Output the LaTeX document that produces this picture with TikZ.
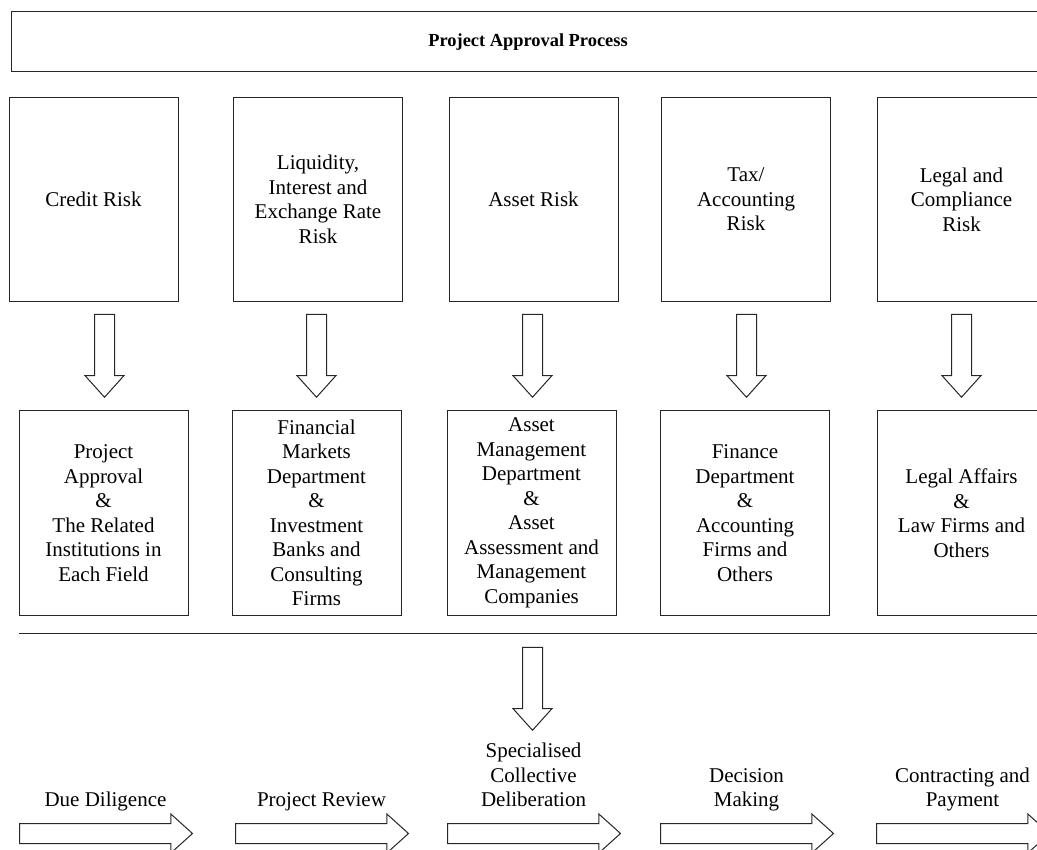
\documentclass[tikz,border=0pt]{standalone}
\usepackage{fontspec}
\setmainfont{Liberation Serif}
\usetikzlibrary{shapes.arrows}
\begin{document}
\begin{tikzpicture}[x=1pt,y=-1pt,
    box/.style={draw=black!85, line width=1pt, minimum width=169pt, minimum height=204pt,
        align=center, inner sep=2pt, font=\fontsize{21}{24.5}\selectfont},
    blockarrow/.style={draw=black!85, line width=1pt, single arrow, minimum height=83pt,
        minimum width=38pt, inner sep=9.5pt, single arrow head extend=9.5pt,
        single arrow tip angle=84},
    downarrow/.style={blockarrow, rotate=-90, anchor=tip},
    steparrow/.style={blockarrow, minimum height=173pt, anchor=tail},
    steplabel/.style={align=center, inner sep=0pt, text depth=5pt, anchor=south,
        font=\fontsize{21}{24.5}\selectfont}]
    \path[use as bounding box, clip] (0,0) rectangle (1037,850);
    \node[draw=black!85, line width=1pt, minimum width=1034pt, minimum height=60pt,
        font=\fontsize{18.4}{22}\selectfont\bfseries] (title) at (528,42) {Project Approval Process};
    \node[box] (r1) at (93.5,199.5) {Credit Risk};
    \node[box] (r2) at (318,199.5) {Liquidity,\\Interest and\\Exchange Rate\\Risk};
    \node[box] (r3) at (533.5,199.5) {Asset Risk};
    \node[box] (r4) at (746,199.5) {Tax/\\Accounting\\Risk};
    \node[box] (r5) at (961.5,199.5) {Legal and\\Compliance\\Risk};
    \node[box] (d1) at (103.5,513) {Project\\Approval\\\&\\The Related\\Institutions in\\Each Field};
    \node[box] (d2) at (316.5,513) {Financial\\Markets\\Department\\\&\\Investment\\Banks and\\Consulting\\Firms};
    \node[box] (d3) at (531.5,513) {Asset\\Management\\Department\\\&\\Asset\\Assessment and\\Management\\Companies};
    \node[box] (d4) at (745,513) {Finance\\Department\\\&\\Accounting\\Firms and\\Others};
    \node[box] (d5) at (961.5,513) {Legal Affairs\\\&\\Law Firms and\\Others};
    \node[downarrow] (a1) at (104.5,398) {};
    \node[downarrow] (a2) at (316.5,398) {};
    \node[downarrow] (a3) at (532.5,398) {};
    \node[downarrow] (a4) at (746.5,398) {};
    \node[downarrow] (a5) at (961.5,398) {};
    \coordinate (sepL) at (19,633);
    \coordinate (sepR) at (1045,633);
    \draw[black!85, line width=1pt] (sepL) -- (sepR);
    \node[downarrow] (a6) at (532.5,731) {};
    \node[steparrow] (s1) at (19,833.5) {};
    \node[steparrow] (s2) at (235,833.5) {};
    \node[steparrow] (s3) at (447,833.5) {};
    \node[steparrow] (s4) at (660,833.5) {};
    \node[steparrow] (s5) at (876,833.5) {};
    \node[steplabel] (t1) at (105.5,812) {Due Diligence};
    \node[steplabel] (t2) at (321.5,812) {Project Review};
    \node[steplabel] (t3) at (533.5,812) {Specialised\\Collective\\Deliberation};
    \node[steplabel] (t4) at (746.5,812) {Decision\\Making};
    \node[steplabel] (t5) at (962.5,812) {Contracting and\\Payment};
\end{tikzpicture}
\end{document}
